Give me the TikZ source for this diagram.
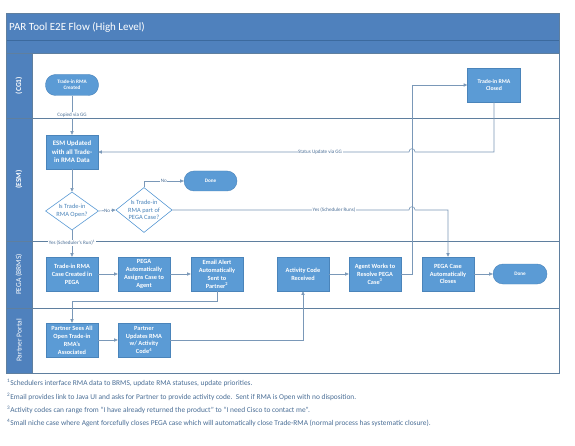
\documentclass[tikz,border=0pt]{standalone}
\usepackage{fontspec}
\setmainfont{Carlito}
\usetikzlibrary{arrows.meta,shapes.geometric}
\definecolor{hdr}{HTML}{4F81BD}
\definecolor{hdrd}{HTML}{3C6A9E}
\definecolor{boxb}{HTML}{5B9BD5}
\definecolor{boxd}{HTML}{4A84BA}
\definecolor{ln}{HTML}{7A98B8}
\definecolor{lane}{HTML}{5F7F9F}
\definecolor{txt}{HTML}{4A6E96}
\tikzset{
  proc/.style={rectangle, fill=boxb, draw=boxd, line width=0.4pt, minimum width=52pt, minimum height=34pt,
    inner sep=1pt, text=white, align=center, font=\fontsize{6.3}{7.9}\selectfont\bfseries},
  term/.style={rectangle, rounded corners=10pt, fill=boxb, draw=boxd, line width=0.4pt, minimum width=53pt,
    minimum height=21pt, inner sep=1pt, text=white, align=center, font=\fontsize{5.2}{6.2}\selectfont\bfseries},
  dec/.style={diamond, draw=boxb, line width=0.6pt, fill=white, aspect=1.25, inner sep=0pt, minimum width=53pt,
    text=boxd, align=center, font=\fontsize{6.4}{7.6}\selectfont},
  conn/.style={draw=ln, line width=0.6pt},
  arr/.style={conn, -{Triangle[length=3.6pt,width=3.2pt]}},
  lbl/.style={fill=white, inner sep=0.6pt, text=txt, font=\fontsize{5.1}{6}\selectfont},
  lanelbl/.style={rotate=90, text=white, font=\fontsize{7.5}{9}\selectfont},
  foot/.style={anchor=west, text=txt, inner sep=0pt, font=\fontsize{7.4}{8.5}\selectfont},
}
\begin{document}
\begin{tikzpicture}[x=1pt,y=-1pt]
\useasboundingbox (0,0) rectangle (575,446);
\fill[white] (0,0) rectangle (575,446);
% frame
\fill[white] (6,53) rectangle (559,373);
\fill[hdr] (6,13) rectangle (559,53);
\draw[hdrd, line width=0.6pt] (6,40) -- (559,40);
\fill[hdr] (6,53) rectangle (32,373);
\draw[lane, line width=0.7pt] (6,13) rectangle (559,373);
\draw[lane, line width=0.7pt] (6,53) -- (559,53);
\draw[lane, line width=0.7pt] (6,118) -- (559,118);
\draw[lane, line width=0.7pt] (6,241) -- (559,241);
\draw[lane, line width=0.7pt] (6,308) -- (559,308);
\draw[lane, line width=0.5pt] (32,53) -- (32,373);
\node[anchor=west, text=white, inner sep=0pt, font=\fontsize{11}{12}\selectfont] (title) at (9,27) {PAR Tool E2E Flow (High Level)};
\node[lanelbl, font=\fontsize{7.5}{9}\selectfont\bfseries] (l1) at (19,85.5) {(CG1)};
\node[lanelbl, font=\fontsize{7.5}{9}\selectfont\bfseries] (l2) at (19,179.5) {(ESM)};
\node[lanelbl] (l3) at (19,274.5) {PEGA (BRMS)};
\node[lanelbl] (l4) at (19,340.5) {Partner Portal};

% nodes
\node[term] (created) at (72,85) {Trade-in RMA\\Created};
\node[proc, minimum width=53pt, font=\fontsize{5.8}{7.2}\selectfont\bfseries] (closed) at (494,85) {Trade-in RMA\\Closed};
\node[proc, font=\fontsize{6.8}{8.6}\selectfont\bfseries] (esm) at (72,152) {ESM Updated\\with all Trade-\\in RMA Data};
\node[term, minimum height=20pt] (done1) at (210.5,181) {Done};
\node[dec, minimum height=34pt] (d1) at (72,211) {Is Trade-in\\RMA Open?};
\node[dec, minimum height=44pt] (d2) at (144,210) {Is Trade-in\\RMA part of\\PEGA Case?};
\node[proc] (case) at (72,274) {Trade-in RMA\\Case Created in\\PEGA};
\node[proc] (assign) at (144,274) {PEGA\\Automatically\\Assigns Case to\\Agent};
\node[proc] (email) at (217,274) {Email Alert\\Automatically\\Sent to\\Partner\textsuperscript{2}};
\node[proc] (act) at (303,274) {Activity Code\\Received};
\node[proc] (agent) at (375,274) {Agent Works to\\Resolve PEGA\\Case\textsuperscript{3}};
\node[proc] (pclose) at (448,274) {PEGA Case\\Automatically\\Closes};
\node[term, minimum height=20pt, minimum width=54pt] (done2) at (520,274) {Done};
\node[proc] (psees) at (72,340) {Partner Sees All\\Open Trade-in\\RMA's\\Associated};
\node[proc] (pupd) at (144,340) {Partner\\Updates RMA\\w/ Activity\\Code\textsuperscript{4}};

% connectors
\path[arr] (created) -- (esm);
\node[lbl] (lcopied) at (72,115) {Copied via GG};
\path[arr] (closed.south) -- (494,152) -- (415,152) .. controls (415,147.5) and (409,147.5) .. (409,152) -- (esm.east);
\node[lbl] (lstatus) at (320,152) {Status Update via GG};
\path[arr] (esm) -- (d1);
\path[arr] (d1.east) -- node[lbl] (lno1) {No} (d2.west);
\path[arr] (d2.north) |- node[lbl, pos=0.75] (lno2) {No} (done1.west);
\path[arr] (d2.east) -- (409,210) .. controls (409,205.5) and (415,205.5) .. (415,210) -- (448,210) -- (pclose.north);
\node[lbl] (lyes2) at (334,210) {Yes (Scheduler Runs)};
\path[arr] (d1.south) -- (case.north);
\node[lbl] (lyes1) at (72,243) {Yes (Scheduler's Run)\textsuperscript{1}};
\path[arr] (case) -- (assign);
\path[arr] (assign) -- (email);
\path[arr] (email.south) -- (217,301) -- (72,301) -- (psees.north);
\path[arr] (psees) -- (pupd);
\path[arr] (pupd.east) -| (act.south);
\path[arr] (act) -- (agent);
\path[arr] (agent.east) -- (412,274) -- (412,85) -- (closed.west);
\path[arr] (pclose) -- (done2);

% footnotes
\node[foot] (f1) at (7,383) {\textsuperscript{1}Schedulers interface RMA data to BRMS, update RMA statuses, update priorities.};
\node[foot] (f2) at (7,396.5) {\textsuperscript{2}Email provides link to Java UI and asks for Partner to provide activity code.\ \ Sent if RMA is Open with no disposition.};
\node[foot] (f3) at (7,409.5) {\textsuperscript{3}Activity codes can range from “I have already returned the product” to “I need Cisco to contact me”.};
\node[foot] (f4) at (7,423) {\textsuperscript{4}Small niche case where Agent forcefully closes PEGA case which will automatically close Trade-RMA (normal process has systematic closure).};
\end{tikzpicture}
\end{document}
